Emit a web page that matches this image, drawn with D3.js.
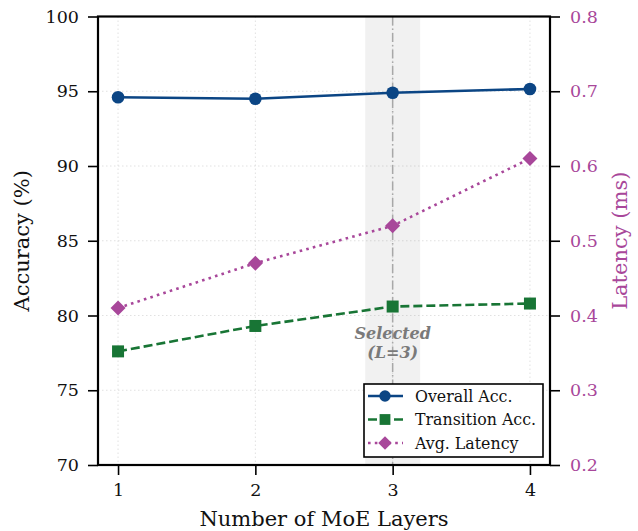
<!DOCTYPE html>
<html>
<head>
<meta charset="utf-8">
<script src="https://cdn.jsdelivr.net/npm/d3@7"></script>
<style>
  html, body { margin: 0; padding: 0; background: #fff; }
  svg text { font-family: "DejaVu Serif", serif; }
</style>
</head>
<body>
<svg id="chart" width="638" height="531"></svg>
<script>
// chart values
var layers = [1, 2, 3, 4];
var overallAcc = [94.6, 94.5, 94.9, 95.15];
var transitionAcc = [77.6, 79.3, 80.6, 80.8];
var avgLatency = [0.41, 0.47, 0.52, 0.61];
var accTicks = [70, 75, 80, 85, 90, 95, 100];
var latTicks = [0.2, 0.3, 0.4, 0.5, 0.6, 0.7, 0.8];
var selectedLayer = 3;
var selectedBand = [2.8, 3.2];

var blue = "#0b4584", green = "#187535", purple = "#a8479a";

var svg = d3.select("#chart");
var m = { left: 98, right: 550, top: 16.5, bottom: 465 };

var x = d3.scaleLinear().domain([0.854, 4.146]).range([m.left, m.right]);
var yAcc = d3.scaleLinear().domain([70, 100]).range([m.bottom, m.top]);
var yLat = d3.scaleLinear().domain([0.2, 0.8]).range([m.bottom, m.top]);

// grid
var grid = svg.append("g");
grid.selectAll("line.gx").data(layers).enter().append("line")
  .attr("x1", function (d) { return x(d); }).attr("x2", function (d) { return x(d); })
  .attr("y1", m.top).attr("y2", m.bottom)
  .attr("stroke", "#d9d9d9").attr("stroke-width", 0.8).attr("stroke-dasharray", "1.5,2.5");
grid.selectAll("line.gy").data(accTicks).enter().append("line")
  .attr("y1", function (d) { return yAcc(d); }).attr("y2", function (d) { return yAcc(d); })
  .attr("x1", m.left).attr("x2", m.right)
  .attr("stroke", "#d9d9d9").attr("stroke-width", 0.8).attr("stroke-dasharray", "1.5,2.5");

// selected band
svg.append("rect")
  .attr("x", x(selectedBand[0])).attr("width", x(selectedBand[1]) - x(selectedBand[0]))
  .attr("y", m.top).attr("height", m.bottom - m.top)
  .attr("fill", "#808080").attr("fill-opacity", 0.11);
svg.append("line")
  .attr("x1", x(selectedLayer)).attr("x2", x(selectedLayer))
  .attr("y1", m.top).attr("y2", m.bottom)
  .attr("stroke", "#a8a8a8").attr("stroke-width", 1.5)
  .attr("stroke-dasharray", "9,3,1.5,3");

svg.append("text")
  .attr("x", x(selectedLayer)).attr("y", 339)
  .attr("text-anchor", "middle").attr("fill", "#7a7a7a")
  .attr("font-size", 16).attr("font-weight", "bold").attr("font-style", "italic")
  .selectAll("tspan").data(["Selected", "(L=3)"]).enter().append("tspan")
  .attr("x", x(selectedLayer)).attr("dy", function (d, i) { return i ? 19 : 0; })
  .text(function (d) { return d; });

// series
function drawSeries(values, yScale, color, dash, marker) {
  var pts = layers.map(function (l, i) { return [x(l), yScale(values[i])]; });
  svg.append("path")
    .attr("d", d3.line()(pts))
    .attr("fill", "none").attr("stroke", color).attr("stroke-width", 2.6)
    .attr("stroke-dasharray", dash);
  svg.append("g").selectAll("path").data(pts).enter().append("path")
    .attr("transform", function (p) { return "translate(" + p[0] + "," + p[1] + ")"; })
    .attr("d", marker).attr("fill", color);
}
var circleM = d3.symbol().type(d3.symbolCircle).size(Math.PI * 6.3 * 6.3)();
var squareM = d3.symbol().type(d3.symbolSquare).size(12 * 12)();
var diamondM = "M0,-7.5L7.5,0L0,7.5L-7.5,0Z";

drawSeries(overallAcc, yAcc, blue, null, circleM);
drawSeries(transitionAcc, yAcc, green, "9,4", squareM);
drawSeries(avgLatency, yLat, purple, "2.6,4.2", diamondM);

// axes
var leftAxis = svg.append("g").attr("transform", "translate(" + m.left + ",0)")
  .call(d3.axisLeft(yAcc).tickValues(accTicks).tickSize(10).tickPadding(9));
var rightAxis = svg.append("g").attr("transform", "translate(" + m.right + ",0)")
  .call(d3.axisRight(yLat).tickValues(latTicks).tickSize(10).tickPadding(10)
    .tickFormat(d3.format(".1f")));
var bottomAxis = svg.append("g").attr("transform", "translate(0," + m.bottom + ")")
  .call(d3.axisBottom(x).tickValues(layers).tickSize(10).tickPadding(9).tickFormat(d3.format("d")));

[leftAxis, rightAxis, bottomAxis].forEach(function (a) {
  a.select(".domain").remove();
  a.selectAll(".tick line").attr("stroke", "#000").attr("stroke-width", 1.6);
  a.selectAll(".tick text").attr("font-size", 17.5).attr("font-family", "DejaVu Serif").attr("fill", "#111");
});
rightAxis.selectAll(".tick text").attr("fill", purple);

// frame
svg.append("rect")
  .attr("x", m.left).attr("y", m.top)
  .attr("width", m.right - m.left).attr("height", m.bottom - m.top)
  .attr("fill", "none").attr("stroke", "#000").attr("stroke-width", 2.2);

// axis titles
svg.append("text")
  .attr("transform", "translate(29," + ((m.top + m.bottom) / 2) + ") rotate(-90)")
  .attr("text-anchor", "middle").attr("font-size", 21).attr("fill", "#111")
  .text("Accuracy (%)");
svg.append("text")
  .attr("transform", "translate(627," + ((m.top + m.bottom) / 2) + ") rotate(-90)")
  .attr("text-anchor", "middle").attr("font-size", 21).attr("fill", purple)
  .text("Latency (ms)");
svg.append("text")
  .attr("x", (m.left + m.right) / 2).attr("y", 526)
  .attr("text-anchor", "middle").attr("font-size", 21).attr("fill", "#111")
  .text("Number of MoE Layers");

// legend
var legendItems = [
  { label: "Overall Acc.", color: blue, dash: null, marker: circleM },
  { label: "Transition Acc.", color: green, dash: "9,4", marker: squareM },
  { label: "Avg. Latency", color: purple, dash: "2.6,4.2", marker: diamondM }
];
var lg = svg.append("g").attr("transform", "translate(364,384)");
lg.append("rect").attr("width", 179).attr("height", 73)
  .attr("fill", "#fff").attr("stroke", "#000").attr("stroke-width", 1.6);
var row = lg.selectAll("g.row").data(legendItems).enter().append("g")
  .attr("transform", function (d, i) { return "translate(0," + (12 + i * 23.5) + ")"; });
row.append("line").attr("x1", 4).attr("x2", 39)
  .attr("stroke", function (d) { return d.color; }).attr("stroke-width", 2.6)
  .attr("stroke-dasharray", function (d) { return d.dash; });
row.append("path").attr("transform", "translate(21,0) scale(0.9)")
  .attr("d", function (d) { return d.marker; })
  .attr("fill", function (d) { return d.color; });
row.append("text").attr("x", 51).attr("dy", "0.35em")
  .attr("font-size", 15.8).attr("fill", "#111")
  .text(function (d) { return d.label; });
</script>
</body>
</html>
